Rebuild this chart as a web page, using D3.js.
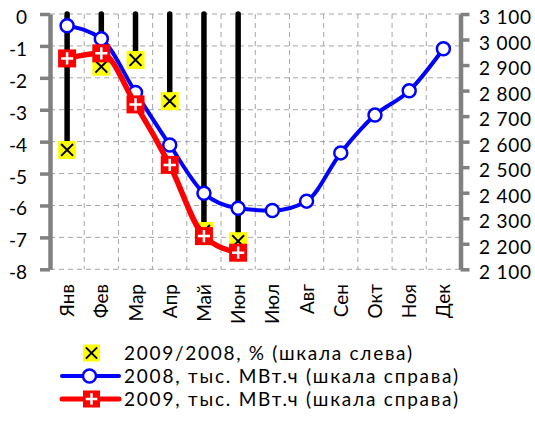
<!DOCTYPE html>
<html>
<head>
<meta charset="utf-8">
<script src="https://cdn.jsdelivr.net/npm/d3@7"></script>
<style>
  html, body { margin: 0; padding: 0; background: #fff; }
  svg { display: block; font-family: Lato, "Open Sans", sans-serif; }
</style>
</head>
<body>
<svg id="chart" width="535" height="421"></svg>
<script>
// Monthly electricity consumption, 2008 vs 2009
const months = ["Янв", "Фев", "Мар", "Апр", "Май", "Июн", "Июл", "Авг", "Сен", "Окт", "Ноя", "Дек"];
const values2008 = [3054, 3003, 2793, 2587, 2398, 2339, 2330, 2367, 2556, 2704, 2799, 2964];
const values2009 = [2926, 2946, 2746, 2509, 2230, 2165];
const changePct = [-4.26, -1.65, -1.44, -2.73, -6.8, -7.12];
const leftTicks = [0, -1, -2, -3, -4, -5, -6, -7, -8];
const rightTicks = [3100, 3000, 2900, 2800, 2700, 2600, 2500, 2400, 2300, 2200, 2100];
const legendLabels = [
  "2009/2008, % (шкала слева)",
  "2008, тыс. МВт.ч (шкала справа)",
  "2009, тыс. МВт.ч (шкала справа)"
];

const svg = d3.select("#chart");
const plotLeft = 50, plotRight = 460.5, plotTop = 14, plotBottom = 269.3;

const x = d3.scaleBand().domain(months).range([plotLeft, plotRight]).padding(0);
const yL = d3.scaleLinear().domain([-8, 0]).range([plotBottom, plotTop]);
const yR = d3.scaleLinear().domain([2100, 3100]).range([plotBottom, plotTop]);
const cx = m => x(m) + x.bandwidth() / 2;

// dashed grid
const grid = svg.append("g").attr("stroke", "#a6a6a6").attr("stroke-width", 1).attr("stroke-dasharray", "5,4");
leftTicks.forEach(v => {
  grid.append("line").attr("x1", plotLeft).attr("x2", plotRight).attr("y1", yL(v)).attr("y2", yL(v));
});
months.slice(1).forEach(m => {
  grid.append("line").attr("x1", x(m)).attr("x2", x(m)).attr("y1", plotTop).attr("y2", plotBottom);
});

// axes
const axisL = d3.axisLeft(yL).tickValues(leftTicks).tickSize(10).tickSizeOuter(0).tickFormat(d3.format("d"));
const axisR = d3.axisRight(yR).tickValues(rightTicks).tickSize(9).tickSizeOuter(0)
  .tickFormat(d => d3.format(",")(d).replace(",", " "));

const gL = svg.append("g").attr("transform", `translate(${plotLeft},0)`).call(axisL);
const gR = svg.append("g").attr("transform", `translate(${plotRight},0)`).call(axisR);
[gL, gR].forEach(g => {
  g.select(".domain").attr("stroke", "#808080").attr("stroke-width", 4.5);
  g.selectAll(".tick line").attr("stroke", "#808080").attr("stroke-width", 3.5);
  g.selectAll(".tick text").attr("fill", "#000").attr("font-size", 19).attr("font-family", "Lato, sans-serif");
});
gL.selectAll(".tick text").attr("x", -23).attr("dy", "0.5em").text(d => d === 0 ? "0" : "-" + Math.abs(d));
gR.selectAll(".tick text").attr("x", 18.5).attr("dy", "0.5em").attr("textLength", 52).attr("lengthAdjust", "spacing");

// month labels, rotated
svg.append("g").selectAll("text").data(months).join("text")
  .attr("transform", m => `translate(${cx(m) + 7},284) rotate(-90)`)
  .attr("text-anchor", "end")
  .attr("font-size", 19)
  .attr("fill", "#000")
  .text(m => m);

// drop bars from zero to the percentage value
const pctData = changePct.map((v, i) => ({ m: months[i], v }));
svg.append("g").selectAll("line").data(pctData).join("line")
  .attr("x1", d => cx(d.m)).attr("x2", d => cx(d.m))
  .attr("y1", yL(0)).attr("y2", d => yL(d.v))
  .attr("stroke", "#000").attr("stroke-width", 5.5).attr("stroke-linecap", "round");

function crossMarker(g, s) {
  g.append("rect").attr("x", -s / 2).attr("y", -s / 2).attr("width", s).attr("height", s).attr("fill", "#ffff00");
  const a = s * 0.33;
  g.append("path").attr("d", `M${-a},${-a}L${a},${a}M${-a},${a}L${a},${-a}`)
    .attr("stroke", "#000").attr("stroke-width", 2);
}
function plusMarker(g, s) {
  g.append("rect").attr("x", -s / 2).attr("y", -s / 2).attr("width", s).attr("height", s).attr("fill", "#ff0000");
  const a = s * 0.34;
  g.append("path").attr("d", `M${-a},0L${a},0M0,${-a}L0,${a}`)
    .attr("stroke", "#fff").attr("stroke-width", 2.5);
}
function circleMarker(g) {
  g.append("circle").attr("r", 6.5).attr("fill", "#fff").attr("stroke", "#0000ff").attr("stroke-width", 2.5);
}

// percentage markers
svg.append("g").selectAll("g").data(pctData).join("g")
  .attr("transform", d => `translate(${cx(d.m)},${yL(d.v)})`)
  .each(function () { crossMarker(d3.select(this), 18); });

// 2008 line
const d2008 = values2008.map((v, i) => ({ m: months[i], v }));
const line = d3.line().x(d => cx(d.m)).y(d => yR(d.v)).curve(d3.curveMonotoneX);
svg.append("path").datum(d2008).attr("d", line)
  .attr("fill", "none").attr("stroke", "#0000ff").attr("stroke-width", 4).attr("stroke-linejoin", "round");
svg.append("g").selectAll("g").data(d2008).join("g")
  .attr("transform", d => `translate(${cx(d.m)},${yR(d.v)})`)
  .each(function () { circleMarker(d3.select(this)); });

// 2009 line
const d2009 = values2009.map((v, i) => ({ m: months[i], v }));
svg.append("path").datum(d2009).attr("d", line)
  .attr("fill", "none").attr("stroke", "#ff0000").attr("stroke-width", 5.5).attr("stroke-linejoin", "round");
svg.append("g").selectAll("g").data(d2009).join("g")
  .attr("transform", d => `translate(${cx(d.m)},${yR(d.v)})`)
  .each(function () { plusMarker(d3.select(this), 18); });

// legend
const lg = svg.append("g");
const rows = [353, 376, 399];
const textWidths = [288, 334, 334];
crossMarker(lg.append("g").attr("transform", `translate(91.5,${rows[0]})`), 17);
lg.append("line").attr("x1", 62).attr("x2", 119).attr("y1", rows[1]).attr("y2", rows[1])
  .attr("stroke", "#0000ff").attr("stroke-width", 4).attr("stroke-linecap", "round");
circleMarker(lg.append("g").attr("transform", `translate(89.5,${rows[1]})`));
lg.append("line").attr("x1", 62).attr("x2", 119).attr("y1", rows[2]).attr("y2", rows[2])
  .attr("stroke", "#ff0000").attr("stroke-width", 5).attr("stroke-linecap", "round");
plusMarker(lg.append("g").attr("transform", `translate(91.5,${rows[2]})`), 17);
lg.selectAll("text").data(legendLabels).join("text")
  .attr("x", 124).attr("y", (d, i) => rows[i] + 6.5)
  .attr("font-size", 19).attr("fill", "#000")
  .attr("textLength", (d, i) => textWidths[i]).attr("lengthAdjust", "spacing")
  .text(d => d);
</script>
</body>
</html>
